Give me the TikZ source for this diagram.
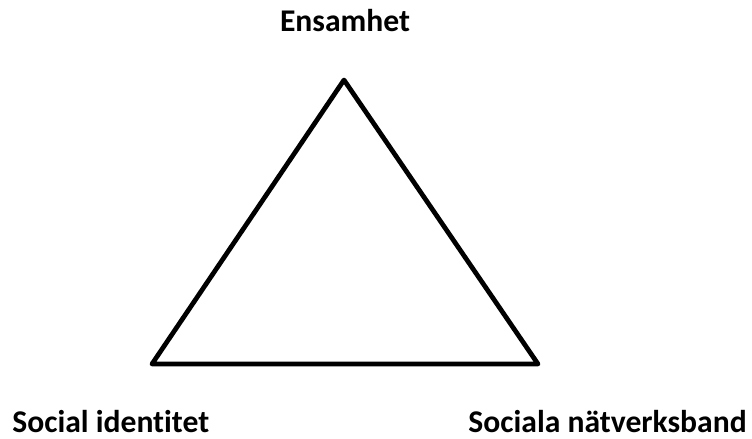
\documentclass[tikz,border=0pt]{standalone}
\usepackage{fontspec}
\setmainfont{Carlito}[Ligatures=NoCommon]
\begin{document}
\begin{tikzpicture}[x=0.02cm,y=-0.02cm,
            etikett/.style={inner sep=0pt,font=\fontsize{18}{20}\selectfont\bfseries}]
            \useasboundingbox (0,0) rectangle (752,439); %ram
            \coordinate (topp) at (344,80); %topp
            \coordinate (vanster) at (152,364); %vanster horn
            \coordinate (hoger) at (538,364); %hoger horn
            \draw[line width=2.7pt,line join=round] (topp)--(vanster)--(hoger)--cycle; %triangel
            \node[etikett,anchor=base] (ensamhet) at (345,32) {Ensamhet};
            \node[etikett,anchor=base west] (identitet) at (12,433) {Social identitet};
            \node[etikett,anchor=base east] (natverk) at (747,433) {Sociala nätverksband};
        \end{tikzpicture}
\end{document}
